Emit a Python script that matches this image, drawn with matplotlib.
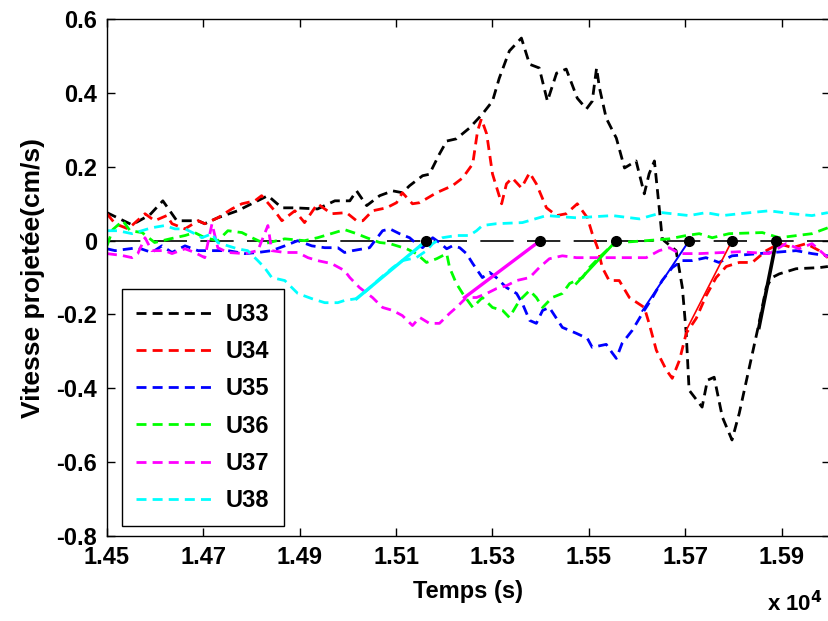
import matplotlib
matplotlib.use("Agg")
import matplotlib.pyplot as plt

# =========================
# DATA (time in s, projected velocity in cm/s)
# =========================
t_u33 = [14500, 14552, 14589, 14616, 14645, 14689, 14703, 14730, 14771, 14834, 14863, 14890,
         14937, 14973, 15004, 15018, 15039, 15066, 15093, 15113, 15128, 15155, 15169, 15190,
         15205, 15225, 15252, 15279, 15300, 15314, 15335, 15360, 15377, 15397, 15414, 15433,
         15453, 15476, 15495, 15507, 15516, 15522, 15536, 15557, 15574, 15598, 15615, 15625,
         15636, 15646, 15652, 15656, 15681, 15694, 15702, 15708, 15735, 15746, 15760, 15777,
         15797, 15812, 15833, 15853, 15868, 15880, 15895, 15930, 15978, 15996]
v_u33 = [0.076, 0.043, 0.07, 0.108, 0.054, 0.054, 0.046, 0.062, 0.081, 0.122, 0.089, 0.089,
         0.086, 0.108, 0.108, 0.135, 0.095, 0.122, 0.135, 0.13, 0.149, 0.176, 0.18, 0.235,
         0.27, 0.276, 0.305, 0.343, 0.378, 0.44, 0.514, 0.549, 0.478, 0.468, 0.378, 0.454,
         0.465, 0.386, 0.357, 0.378, 0.468, 0.414, 0.332, 0.278, 0.197, 0.216, 0.127, 0.181,
         0.216, 0.089, 0.008, 0.0, -0.027, -0.127, -0.251, -0.405, -0.451, -0.378, -0.37, -0.478,
         -0.54, -0.468, -0.343, -0.224, -0.127, -0.1, -0.09, -0.076, -0.073, -0.07]

t_u34 = [14500, 14517, 14544, 14579, 14599, 14624, 14635, 14662, 14689, 14703, 14730, 14759,
         14780, 14807, 14821, 14848, 14863, 14890, 14910, 14937, 14966, 14997, 15018, 15031,
         15051, 15080, 15101, 15113, 15134, 15149, 15184, 15217, 15238, 15259, 15269, 15277,
         15288, 15300, 15319, 15329, 15341, 15360, 15377, 15391, 15412, 15433, 15453, 15476,
         15497, 15507, 15518, 15528, 15542, 15563, 15584, 15615, 15625, 15640, 15661, 15673,
         15688, 15702, 15723, 15743, 15764, 15785, 15812, 15839, 15868, 15895, 15922, 15951,
         15978, 15996]
v_u34 = [0.073, 0.046, 0.032, 0.073, 0.054, 0.068, 0.046, 0.032, 0.054, 0.046, 0.062, 0.086,
         0.1, 0.108, 0.122, 0.081, 0.054, 0.081, 0.049, 0.1, 0.073, 0.076, 0.054, 0.054,
         0.081, 0.089, 0.103, 0.13, 0.1, 0.103, 0.13, 0.149, 0.17, 0.208, 0.297, 0.33,
         0.289, 0.181, 0.1, 0.154, 0.17, 0.143, 0.184, 0.154, 0.089, 0.068, 0.073, 0.1,
         0.062, 0.019, -0.019, -0.073, -0.108, -0.108, -0.154, -0.181, -0.224, -0.297, -0.351, -0.373,
         -0.324, -0.251, -0.21, -0.15, -0.1, -0.07, -0.059, -0.059, -0.027, -0.008, -0.019, -0.008,
         -0.027, -0.046]

t_u35 = [14500, 14517, 14564, 14593, 14614, 14635, 14662, 14689, 14718, 14751, 14786, 14813,
         14842, 14869, 14896, 14925, 14952, 14979, 14993, 15010, 15045, 15072, 15087, 15107,
         15128, 15142, 15155, 15176, 15190, 15205, 15217, 15232, 15246, 15259, 15279, 15294,
         15308, 15329, 15350, 15362, 15377, 15391, 15404, 15418, 15445, 15474, 15497, 15507,
         15536, 15549, 15557, 15569, 15590, 15611, 15632, 15652, 15673, 15694, 15715, 15743,
         15770, 15797, 15853, 15930, 15963, 15996]
v_u35 = [-0.022, -0.027, -0.019, -0.032, -0.014, -0.032, -0.014, -0.027, -0.027, -0.027, -0.035, -0.032,
         -0.027, -0.014, 0.0, -0.014, -0.019, -0.019, -0.032, -0.027, -0.019, 0.027, 0.032, 0.019,
         0.008, -0.008, -0.019, 0.008, -0.005, -0.022, -0.014, -0.019, -0.035, -0.062, -0.1, -0.086,
         -0.1, -0.127, -0.143, -0.17, -0.216, -0.224, -0.189, -0.181, -0.235, -0.251, -0.265, -0.289,
         -0.281, -0.305, -0.319, -0.278, -0.243, -0.197, -0.154, -0.108, -0.073, -0.054, -0.054, -0.046,
         -0.059, -0.041, -0.035, -0.027, -0.035, -0.041]

t_u36 = [14500, 14512, 14533, 14548, 14573, 14599, 14631, 14662, 14682, 14703, 14730, 14751,
         14780, 14801, 14827, 14869, 14910, 14937, 14973, 14993, 15018, 15039, 15066, 15087,
         15122, 15142, 15163, 15184, 15205, 15211, 15225, 15238, 15259, 15279, 15300, 15321,
         15335, 15356, 15377, 15391, 15404, 15424, 15445, 15460, 15487, 15501, 15522, 15542,
         15563, 15619, 15667, 15702, 15729, 15756, 15791, 15860, 15895, 15963, 15996]
v_u36 = [-0.014, 0.03, 0.054, 0.027, 0.022, -0.005, 0.005, 0.014, 0.022, 0.008, 0.0, 0.027,
         0.022, 0.008, -0.008, 0.005, 0.0, 0.008, 0.022, 0.03, 0.019, 0.008, -0.005, -0.008,
         -0.022, -0.035, -0.059, -0.049, -0.035, -0.073, -0.116, -0.143, -0.181, -0.154, -0.181, -0.189,
         -0.208, -0.162, -0.135, -0.154, -0.181, -0.154, -0.143, -0.116, -0.1, -0.073, -0.045, -0.02,
         -0.005, 0.0, 0.005, 0.014, 0.019, 0.008, 0.019, 0.022, 0.008, 0.019, 0.035]

t_u37 = [14500, 14531, 14552, 14564, 14579, 14593, 14620, 14635, 14662, 14682, 14703, 14718,
         14730, 14751, 14786, 14813, 14834, 14842, 14869, 14896, 14917, 14937, 14966, 14993,
         15004, 15024, 15051, 15072, 15093, 15113, 15134, 15149, 15169, 15190, 15211, 15225,
         15246, 15267, 15288, 15308, 15329, 15350, 15377, 15397, 15418, 15445, 15474, 15522,
         15584, 15619, 15646, 15667, 15688, 15729, 15812, 15874, 15909, 15936, 15963, 15996]
v_u37 = [-0.035, -0.04, -0.046, -0.035, 0.008, -0.027, -0.027, -0.035, -0.022, -0.032, -0.046, 0.046,
         -0.019, -0.032, -0.035, -0.027, 0.041, -0.027, -0.032, -0.032, -0.046, -0.054, -0.062, -0.081,
         -0.1, -0.127, -0.154, -0.181, -0.189, -0.203, -0.23, -0.208, -0.224, -0.224, -0.197, -0.181,
         -0.154, -0.154, -0.143, -0.13, -0.122, -0.108, -0.1, -0.073, -0.049, -0.041, -0.046, -0.046,
         -0.046, -0.046, -0.027, -0.019, -0.035, -0.035, -0.03, -0.035, -0.008, -0.022, -0.008, -0.046]

t_u38 = [14500, 14523, 14552, 14593, 14620, 14641, 14662, 14682, 14697, 14718, 14730, 14751,
         14771, 14792, 14813, 14827, 14842, 14869, 14896, 14925, 14952, 14979, 14993, 15018,
         15039, 15066, 15093, 15113, 15142, 15163, 15176, 15196, 15225, 15252, 15267, 15279,
         15308, 15362, 15412, 15474, 15549, 15605, 15652, 15708, 15743, 15777, 15812, 15874,
         15922, 15963, 15996]
v_u38 = [0.027, 0.027, 0.019, 0.035, 0.041, 0.032, 0.032, 0.019, 0.008, 0.019, -0.005, -0.014,
         -0.022, -0.027, -0.054, -0.073, -0.1, -0.108, -0.143, -0.157, -0.168, -0.168, -0.162, -0.157,
         -0.135, -0.103, -0.073, -0.054, -0.046, -0.027, -0.008, 0.008, 0.014, 0.014, 0.027, 0.041,
         0.046, 0.049, 0.068, 0.062, 0.068, 0.059, 0.076, 0.068, 0.076, 0.068, 0.073, 0.081,
         0.073, 0.068, 0.076]

labels = ["U33", "U34", "U35", "U36", "U37", "U38"]
colors = ["black", "red", "blue", "#00ff00", "magenta", "cyan"]

# onset fits: start point of the fitted front and its zero crossing
fit_t0 = [15853, 15702, 15611, 15474, 15242, 15018]
fit_v0 = [-0.235, -0.243, -0.19, -0.116, -0.154, -0.157]
zero_cross = [15889, 15797, 15708, 15557, 15399, 15163]
fit_widths = [2.6, 1.2, 1.4, 2.0, 2.4, 2.4]

series_t = [t_u33, t_u34, t_u35, t_u36, t_u37, t_u38]
series_v = [v_u33, v_u34, v_u35, v_u36, v_u37, v_u38]

# =========================
# PLOT
# =========================
plt.rcParams["font.family"] = ["Liberation Sans", "DejaVu Sans"]
plt.rcParams["font.weight"] = "bold"

fig = plt.figure(figsize=(8.29, 6.21), dpi=100)
ax = fig.add_axes([0.129, 0.137, 0.872, 0.832])

ax.plot([14500, 16000], [0, 0], color="black", lw=1.2, dashes=(20, 8), zorder=1)

for t, v, lab, c in zip(series_t, series_v, labels, colors):
    ax.plot(t, v, color=c, lw=2.0, dashes=(3.6, 2.2), label=lab, zorder=2)

for t0, v0, tz, c, w in zip(fit_t0, fit_v0, zero_cross, colors, fit_widths):
    ax.plot([t0, tz], [v0, 0], color=c, lw=w, zorder=3)
    ax.plot([tz], [0], "o", color="black", ms=7, zorder=4)

ax.set_xlim(14500, 16000)
ax.set_ylim(-0.8, 0.6)
xt = [14500, 14700, 14900, 15100, 15300, 15500, 15700, 15900]
ax.set_xticks(xt)
ax.set_xticklabels(["%.2f" % (x / 1e4) for x in xt])
ax.set_yticks([-0.8, -0.6, -0.4, -0.2, 0, 0.2, 0.4, 0.6])
ax.set_yticklabels(["-0.8", "-0.6", "-0.4", "-0.2", "0", "0.2", "0.4", "0.6"])
ax.tick_params(direction="in", length=6, width=1, top=True, right=True,
               labelsize=17, pad=7)
for s in ax.spines.values():
    s.set_linewidth(1.0)

ax.set_xlabel("Temps (s)", fontsize=17, fontweight="bold", labelpad=8)
ax.set_ylabel("Vitesse projetée(cm/s)", fontsize=19, fontweight="bold", labelpad=8)
fig.text(0.925, 0.015, r"x 10$^{\mathbf{4}}$", fontsize=16, fontweight="bold")

leg = ax.legend(loc="lower left", bbox_to_anchor=(0.0207, 0.019), borderaxespad=0,
                fancybox=False, edgecolor="black", framealpha=1, fontsize=17,
                handlelength=3.2, labelspacing=0.6, borderpad=0.6, handletextpad=0.6)
leg.get_frame().set_linewidth(1.0)

fig.savefig("out.png", dpi=100)
